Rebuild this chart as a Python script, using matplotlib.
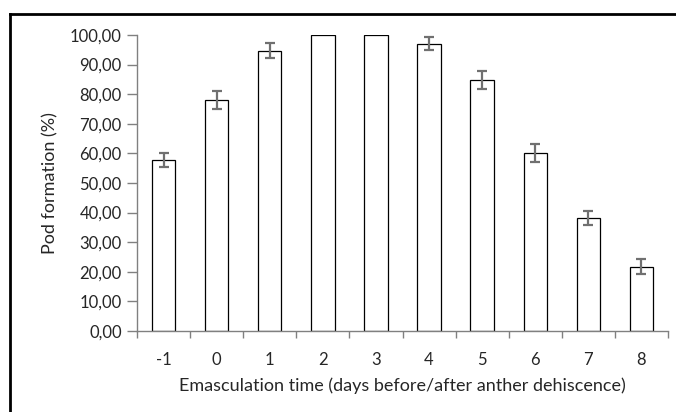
import matplotlib
matplotlib.use("Agg")
import matplotlib.pyplot as plt
from matplotlib.lines import Line2D
import numpy as np

# emasculation day and pod formation (%) with error
days = ["-1", "0", "1", "2", "3", "4", "5", "6", "7", "8"]
pod_formation = [57.8, 78.0, 94.7, 100.0, 100.0, 97.1, 84.7, 60.2, 38.3, 21.7]
errors = [2.5, 3.0, 2.5, 0.0, 0.0, 2.2, 3.0, 3.0, 2.4, 2.6]

plt.rcParams["font.family"] = ["Lato", "DejaVu Sans"]
fs = 12

fig = plt.figure(figsize=(6.76, 4.12), dpi=100)
ax = fig.add_axes([137 / 676, 1 - 331 / 412, (668 - 137) / 676, (331 - 35) / 412])

x = np.arange(len(days))
ax.bar(x, pod_formation, width=0.44, color="white", edgecolor="black", linewidth=0.9, zorder=2)
idx = [i for i, e in enumerate(errors) if e > 0]
ax.errorbar(x[idx], [pod_formation[i] for i in idx], yerr=[errors[i] for i in idx],
            fmt="none", ecolor="#707070", elinewidth=1.6, capsize=3.5, capthick=1.6, zorder=3)

ax.set_xlim(-0.5, len(days) - 0.5)
ax.set_ylim(0, 100)
ax.set_yticks(np.arange(0, 101, 10))
ax.set_yticklabels([f"{v:.2f}".replace(".", ",") for v in np.arange(0, 101, 10)])
ax.set_xticks(x)
ax.set_xticklabels(days)
ax.set_xticks(np.arange(-0.5, len(days), 1), minor=True)
ax.tick_params(axis="x", which="major", length=0, pad=15, labelsize=fs, colors="#262626")
ax.tick_params(axis="x", which="minor", length=5, color="#808080", width=1)
ax.tick_params(axis="y", length=7, color="#808080", width=1, labelsize=fs, labelcolor="#262626", pad=4)

for side in ["top", "right"]:
    ax.spines[side].set_visible(False)
for side in ["left", "bottom"]:
    ax.spines[side].set_color("#808080")
    ax.spines[side].set_linewidth(1)

ax.set_ylabel("Pod formation (%)", fontsize=13, color="#262626", labelpad=8)
ax.set_xlabel("Emasculation time (days before/after anther dehiscence)", fontsize=13,
              color="#262626", labelpad=7)

# chart area border (cut off at right and bottom)
bx = 9.5 / 676
by = 1 - 13.5 / 412
fig.add_artist(Line2D([bx, 1.0], [by, by], color="black", linewidth=2, transform=fig.transFigure))
fig.add_artist(Line2D([bx, bx], [0.0, by], color="black", linewidth=2, transform=fig.transFigure))

fig.savefig("out.png", dpi=100)
